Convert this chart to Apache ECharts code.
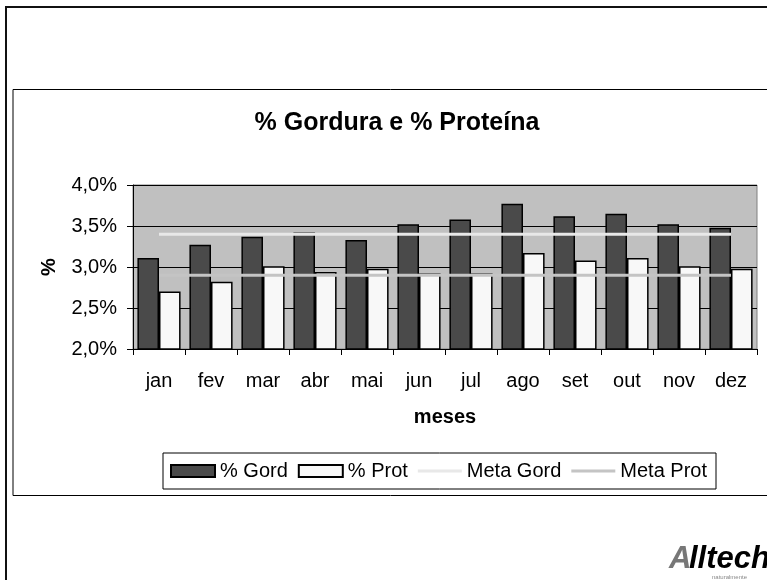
<!DOCTYPE html>
<html>
<head>
<meta charset="utf-8">
<script src="https://cdn.jsdelivr.net/npm/echarts@6/dist/echarts.min.js"></script>
<style>
  html, body { margin: 0; padding: 0; background: #fff; }
  #chart { width: 767px; height: 580px; }
</style>
</head>
<body>
<div id="chart"></div>
<script>
var meses = ['jan', 'fev', 'mar', 'abr', 'mai', 'jun', 'jul', 'ago', 'set', 'out', 'nov', 'dez'];
var gordura = [3.11, 3.27, 3.37, 3.42, 3.33, 3.52, 3.58, 3.77, 3.62, 3.65, 3.52, 3.48];
var proteina = [2.70, 2.82, 3.01, 2.94, 2.98, 2.92, 2.92, 3.17, 3.08, 3.11, 3.01, 2.98];
var metaGord = [3.4, 3.4, 3.4, 3.4, 3.4, 3.4, 3.4, 3.4, 3.4, 3.4, 3.4, 3.4];
var metaProt = [2.9, 2.9, 2.9, 2.9, 2.9, 2.9, 2.9, 2.9, 2.9, 2.9, 2.9, 2.9];

var fonte = 'Liberation Sans, Arial, sans-serif';
var iconeLinha = 'path://M0,0 L44,0 L44,3 L0,3 Z';

var chart = echarts.init(document.getElementById('chart'));

var option = {
  animation: false,
  textStyle: { fontFamily: fonte },
  title: {
    text: '% Gordura e % Proteína',
    left: 392,
    top: 106,
    textAlign: 'center',
    textStyle: { fontSize: 25, fontWeight: 'bold', color: '#000', fontFamily: fonte }
  },
  graphic: [
    // moldura externa
    { type: 'rect', shape: { x: 6, y: 7, width: 780, height: 600 }, style: { fill: 'none', stroke: '#111', lineWidth: 2 }, z: -10 },
    // caixa do grafico
    { type: 'rect', shape: { x: 13, y: 89.5, width: 780, height: 406 }, style: { fill: 'none', stroke: '#000', lineWidth: 1 }, z: -10 },
    // logo
    { type: 'text', left: 669, top: 544, style: { text: 'A', fill: '#777', font: 'italic bold 31px ' + fonte } },
    { type: 'text', left: 689, top: 544, style: { text: 'lltech', fill: '#000', font: 'italic bold 31px ' + fonte } },
    { type: 'text', left: 712, top: 574, style: { text: 'naturalmente', fill: '#888', font: '6px ' + fonte } }
  ],
  legend: {
    left: 163,
    top: 453,
    padding: [8, 9, 8, 7],
    borderColor: '#000',
    borderWidth: 1,
    itemWidth: 44,
    itemHeight: 12,
    itemGap: 10,
    textStyle: { fontSize: 20, color: '#000', fontFamily: fonte },
    data: [
      { name: '% Gord', icon: 'rect' },
      { name: '% Prot', icon: 'rect' },
      { name: 'Meta Gord', icon: iconeLinha },
      { name: 'Meta Prot', icon: iconeLinha }
    ]
  },
  grid: {
    left: 133,
    right: 10,
    top: 185,
    bottom: 231,
    show: true,
    backgroundColor: '#c0c0c0',
    borderColor: '#808080',
    borderWidth: 1
  },
  xAxis: {
    type: 'category',
    data: meses,
    boundaryGap: true,
    name: 'meses',
    nameLocation: 'middle',
    nameGap: 58,
    nameTextStyle: { fontSize: 20, fontWeight: 'bold', color: '#000', fontFamily: fonte },
    axisLine: { lineStyle: { color: '#000', width: 1 } },
    axisTick: { show: true, length: 6, lineStyle: { color: '#000' } },
    axisLabel: { fontSize: 20, color: '#000', margin: 22, fontFamily: fonte }
  },
  yAxis: {
    type: 'value',
    min: 2,
    max: 4,
    interval: 0.5,
    name: '%',
    nameLocation: 'middle',
    nameRotate: 90,
    nameGap: 74,
    nameTextStyle: { fontSize: 20, fontWeight: 'bold', color: '#000', fontFamily: fonte },
    axisLine: { show: true, lineStyle: { color: '#000', width: 1 } },
    axisTick: { show: true, length: 6, lineStyle: { color: '#000' } },
    axisLabel: {
      fontSize: 20,
      color: '#000',
      margin: 16,
      fontFamily: fonte,
      formatter: function (v) { return v.toFixed(1).replace('.', ',') + '%'; }
    },
    splitLine: { show: true, lineStyle: { color: '#000', width: 1 } }
  },
  series: [
    {
      name: '% Gord',
      type: 'bar',
      data: gordura,
      barGap: '0%',
      barCategoryGap: '17%',
      itemStyle: { color: '#4a4a4a', borderColor: '#000', borderWidth: 1.5 }
    },
    {
      name: '% Prot',
      type: 'bar',
      data: proteina,
      itemStyle: { color: '#f8f8f8', borderColor: '#000', borderWidth: 1.5 }
    },
    {
      name: 'Meta Gord',
      type: 'line',
      data: metaGord,
      symbol: 'none',
      z: 5,
      itemStyle: { color: '#e8e8e8' },
      lineStyle: { color: '#e8e8e8', width: 3 }
    },
    {
      name: 'Meta Prot',
      type: 'line',
      data: metaProt,
      symbol: 'none',
      z: 5,
      itemStyle: { color: '#c4c4c4' },
      lineStyle: { color: '#c4c4c4', width: 3 }
    }
  ]
};

chart.setOption(option);
</script>
</body>
</html>
